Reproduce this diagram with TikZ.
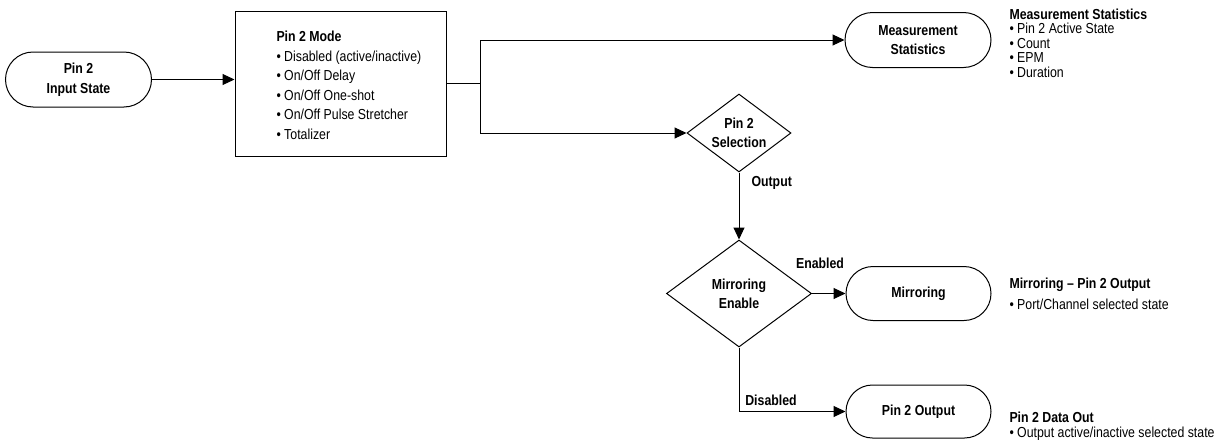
\documentclass[tikz,border=0pt]{standalone}
\usepackage{fontspec}
\setmainfont{Liberation Sans}[FakeStretch=0.85]
\usetikzlibrary{shapes.misc,shapes.geometric,arrows.meta}
\begin{document}
\begin{tikzpicture}[x=1pt,y=-1pt, line width=1pt,
  arr/.style={-{Triangle[length=12pt,width=11pt]}},
  term/.style={rounded rectangle, draw, minimum width=146pt, minimum height=55pt, inner sep=0pt, align=center, font=\fontsize{14.5}{19.5}\selectfont\bfseries},
  dec/.style={diamond, draw, inner sep=0pt, align=center, font=\fontsize{14.5}{19}\selectfont\bfseries},
  lbl/.style={font=\fontsize{14.5}{15}\selectfont\bfseries, inner sep=0pt},
  info/.style={anchor=north west, align=left, inner sep=0pt, font=\fontsize{14.5}{14.5}\selectfont}]
\useasboundingbox (0,0) rectangle (1225,439);

\node[term] (in) at (78.5,79.5) {Pin 2\\Input State};
\node[draw, minimum width=211pt, minimum height=145pt, inner sep=0pt] (mode) at (340.5,83.5) {};
\node[info, font=\fontsize{14.5}{19.5}\selectfont] (modetxt) at (276,30.7) {\textbf{Pin 2 Mode}\\• Disabled (active/inactive)\\• On/Off Delay\\• On/Off One-shot\\• On/Off Pulse Stretcher\\• Totalizer};

\node[term] (ms) at (918,40) {Measurement\\Statistics};
\node[dec, minimum width=104pt, minimum height=78pt, aspect=1.333] (sel) at (739,133) {Pin 2\\Selection};
\node[dec, minimum width=145pt, minimum height=107pt, aspect=1.355] (me) at (739,293.5) {Mirroring\\Enable};
\node[term, minimum width=145pt, minimum height=54pt] (mir) at (918.5,293.5) {Mirroring};
\node[term, minimum width=145pt, minimum height=53pt] (out) at (918.5,411.5) {Pin 2 Output};

\draw[arr] (in.east) -- (in.east -| mode.west);
\draw (mode.east) -- ++(34,0) coordinate (j);
\draw[arr] (j) |- (ms.west);
\draw[arr] (j) |- (sel.west);
\draw[arr] (sel.south) -- (me.north);
\draw[arr] (me.east) -- (mir.west);
\draw[arr] (me.south) |- (out.west);

\node[lbl, anchor=west] (lout) at (751,183) {Output};
\node[lbl] (len) at (820,263.3) {Enabled};
\node[lbl] (ldis) at (771,400.7) {Disabled};

\node[info] (msinfo) at (1009,8.3) {\textbf{Measurement Statistics}\\• Pin 2 Active State\\• Count\\• EPM\\• Duration};
\node[info] (mirinfo) at (1009,277.7) {\textbf{Mirroring – Pin 2 Output}\\[6pt]• Port/Channel selected state};
\node[info] (outinfo) at (1009,411.7) {\textbf{Pin 2 Data Out}\\• Output active/inactive selected state};
\end{tikzpicture}
\end{document}
